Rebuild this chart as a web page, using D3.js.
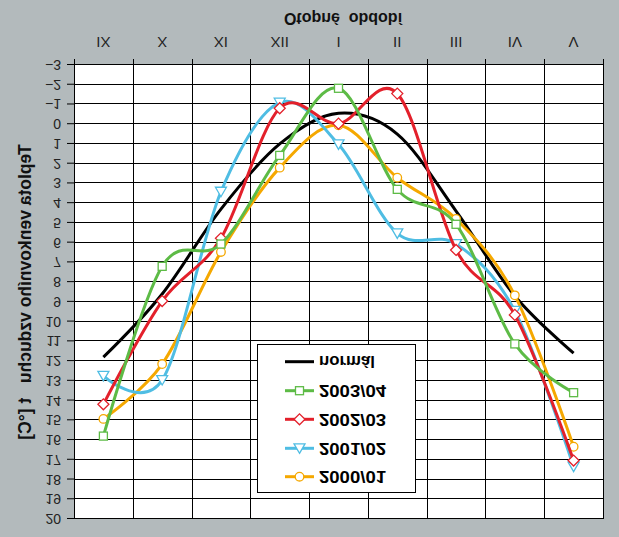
<!DOCTYPE html>
<html>
<head>
<meta charset="utf-8">
<script src="https://cdn.jsdelivr.net/npm/d3@7"></script>
<style>
  html, body { margin: 0; padding: 0; background: #B3BABC; }
  svg { display: block; }
  text { font-family: "Liberation Sans", Arial, sans-serif; }
</style>
</head>
<body>
<svg id="chart" width="619" height="537"></svg>
<script>
// ---- data ----
const categories = ["IX", "X", "XI", "XII", "I", "II", "III", "IV", "V"];
const yTicks = d3.range(-3, 21);
const normal  = [11.8, 8.6, 4.3, 1.0, -0.55, 0.5, 4.4, 8.7, 11.6];
const s2003_04 = [15.8, 7.2, 6.07, 1.58, -1.82, 3.3, 5.07, 11.13, 13.6];
const s2002_03 = [14.19, 8.96, 5.78, -0.81, -0.03, -1.55, 6.37, 9.66, 17.04];
const s2001_02 = [12.75, 12.96, 3.42, -1.09, 1.02, 5.53, 6.07, 9.46, 17.35];
const s2000_01 = [14.93, 12.15, 6.47, 2.2, 0.05, 2.71, 4.8, 8.67, 16.34];
const seriesNames = ["normál", "2003/04", "2002/03", "2001/02", "2000/01"];
const xTitle = "Otopné\u00a0\u00a0období";
const yTitle = "Teplota venkovního vzduchu\u00a0\u00a0\u00a0t [°C]";

(function () {
const series = [
  { name: seriesNames[0], values: normal,   color: "#000000", marker: null },
  { name: seriesNames[1], values: s2003_04, color: "#5DBB46", marker: "square" },
  { name: seriesNames[2], values: s2002_03, color: "#E3202B", marker: "diamond" },
  { name: seriesNames[3], values: s2001_02, color: "#4FBDE3", marker: "triangle" },
  { name: seriesNames[4], values: s2000_01, color: "#F5A800", marker: "circle" }
];

const W = 619, H = 537;
const svg = d3.select("#chart");
svg.append("rect").attr("width", W).attr("height", H).attr("fill", "#B3BABC");

// whole chart is drawn normally, then mirrored vertically (as in the reference)
const g = svg.append("g").attr("transform", `matrix(1,0,0,-1,0,${H})`);

const pL = 74, pR = 603, pT = 18, pB = 472;
const x = d3.scaleBand().domain(categories).range([pL, pR]).padding(0);
const cx = c => x(c) + x.bandwidth() / 2;
const y = d3.scaleLinear().domain([-3, 20]).range([pB, pT]);

// plot area
g.append("rect").attr("x", pL).attr("y", pT).attr("width", pR - pL).attr("height", pB - pT).attr("fill", "#fff");

// y axis labels + ticks
const yAxis = d3.axisLeft(y).tickValues(yTicks).tickSize(7).tickPadding(6).tickFormat(d3.format("d"));
const ya = g.append("g").attr("transform", `translate(${pL},0)`).call(yAxis);
ya.select(".domain").remove();
ya.selectAll("line").attr("stroke", "#000");
ya.selectAll("text").attr("font-size", 14).attr("fill", "#222");

// horizontal gridlines
g.append("g").selectAll("line").data(yTicks).join("line")
  .attr("x1", pL).attr("x2", pR)
  .attr("y1", d => Math.round(y(d)) + 0.5).attr("y2", d => Math.round(y(d)) + 0.5)
  .attr("stroke", "#000").attr("stroke-width", 1);

// vertical gridlines at category boundaries (with outward ticks)
const bounds = categories.map(c => x(c)).concat([pR]);
g.append("g").selectAll("line").data(bounds).join("line")
  .attr("x1", d => Math.round(d) + 0.5).attr("x2", d => Math.round(d) + 0.5)
  .attr("y1", pT).attr("y2", pB + 6)
  .attr("stroke", "#000").attr("stroke-width", 1);

// x axis labels
const xAxis = d3.axisBottom(x).tickSize(0).tickPadding(0);
const xa = g.append("g").attr("transform", `translate(0,${pB})`).call(xAxis);
xa.select(".domain").remove();
xa.selectAll("text").attr("font-size", 15).attr("fill", "#222")
  .attr("dy", null).attr("dominant-baseline", "central").attr("y", 22.5);

// axis titles
g.append("text").attr("x", 343).attr("y", 524).attr("text-anchor", "middle")
  .attr("font-size", 16).attr("font-weight", "bold").attr("fill", "#111")
  .text(xTitle);
g.append("text").attr("transform", "translate(31,245) rotate(-90)")
  .attr("text-anchor", "middle").attr("font-size", 17.5).attr("font-weight", "bold").attr("fill", "#111")
  .text(yTitle);

// markers
function drawMarker(sel, type, color, px, py) {
  if (type === "square") {
    sel.append("rect").attr("x", px - 4).attr("y", py - 4).attr("width", 8).attr("height", 8)
      .attr("fill", "#fff").attr("stroke", color).attr("stroke-width", 1.3);
  } else if (type === "diamond") {
    sel.append("path").attr("d", `M${px},${py - 5.5}L${px + 5.5},${py}L${px},${py + 5.5}L${px - 5.5},${py}Z`)
      .attr("fill", "#fff").attr("stroke", color).attr("stroke-width", 1.3);
  } else if (type === "triangle") {
    sel.append("path").attr("d", `M${px},${py - 5}L${px + 5.5},${py + 4.5}L${px - 5.5},${py + 4.5}Z`)
      .attr("fill", "#fff").attr("stroke", color).attr("stroke-width", 1.3);
  } else if (type === "circle") {
    sel.append("circle").attr("cx", px).attr("cy", py).attr("r", 4.3)
      .attr("fill", "#fff").attr("stroke", color).attr("stroke-width", 1.3);
  }
}

const line = d3.line().x((d, i) => cx(categories[i])).y(d => y(d)).curve(d3.curveCardinal.tension(0));
const drawOrder = [0, 4, 3, 2, 1];
drawOrder.forEach(k => {
  const s = series[k];
  const sg = g.append("g");
  sg.append("path").attr("d", line(s.values)).attr("fill", "none")
    .attr("stroke", s.color).attr("stroke-width", 3).attr("stroke-linejoin", "round");
  if (s.marker) s.values.forEach((v, i) => drawMarker(sg, s.marker, s.color, cx(categories[i]), y(v)));
});

// legend
const lg = g.append("g");
lg.append("rect").attr("x", 257.5).attr("y", 44.5).attr("width", 158).attr("height", 148)
  .attr("fill", "#fff").attr("stroke", "#000").attr("stroke-width", 1);
const legendY = [175.3, 146.3, 117.7, 88.7, 60.3];
series.forEach((s, i) => {
  const ly = legendY[i];
  lg.append("line").attr("x1", 285).attr("x2", 314).attr("y1", ly).attr("y2", ly)
    .attr("stroke", s.color).attr("stroke-width", 3);
  if (s.marker) drawMarker(lg, s.marker, s.color, 299.5, ly);
  lg.append("text").attr("x", 319).attr("y", ly).attr("dominant-baseline", "central")
    .attr("font-size", 16).attr("font-weight", "bold").attr("fill", "#000")
    .attr("textLength", i === 0 ? 56 : 67).attr("lengthAdjust", "spacingAndGlyphs")
    .text(s.name);
});
})();
</script>
</body>
</html>
